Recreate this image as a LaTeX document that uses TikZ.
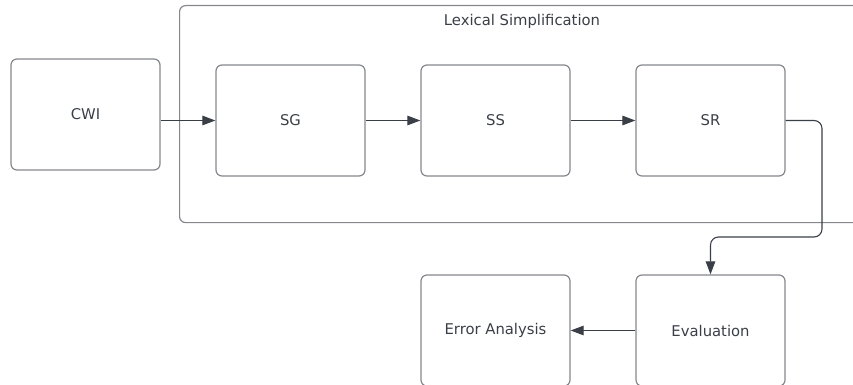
\documentclass[tikz,border=0pt]{standalone}
\usepackage{fontspec}
\setmainfont{DejaVu Sans}
\usetikzlibrary{arrows.meta}

\definecolor{boxline}{HTML}{84878C}
\definecolor{ink}{HTML}{3A3F47}

\tikzset{
    stage/.style={draw=boxline, line width=1.2pt, rounded corners=6pt,
        minimum width=149pt, minimum height=111pt, text=ink,
        font=\fontsize{14.8}{17}\selectfont},
    flow/.style={draw=ink, line width=1.1pt,
        -{Triangle[length=13pt, width=9.5pt]}},
}

\begin{document}
\begin{tikzpicture}[x=1pt, y=-1pt]
        \useasboundingbox (0,0) rectangle (853,385);
        \clip (0,0) rectangle (853,385);

        % lexical simplification group
        \node[draw=boxline, line width=1.2pt, rounded corners=6pt,
              minimum width=760pt, minimum height=217pt,
              anchor=north west] (ls) at (179,5) {};
        \node[text=ink, font=\fontsize{14.8}{17}\selectfont] (lstitle) at (522,21) {Lexical Simplification};

        % stages
        \node[stage] (cwi) at (85.5,114.5) {CWI};
        \node[stage] (sg) at (290.5,120.5) {SG};
        \node[stage] (ss) at (495.5,120.5) {SS};
        \node[stage] (sr) at (710.5,120.5) {SR};

        \node[stage] (eval) at (710.5,330.5) {Evaluation};
        \node[stage] (err) at (495.5,330.5) {Error Analysis};

        % bend point of the return line
        \coordinate (turn) at (822,237);

        % arrows
        \draw[flow] (sg.west -| cwi.east) -- (sg.west);
        \draw[flow] (sg) -- (ss);
        \draw[flow] (ss) -- (sr);
        \draw[flow, rounded corners=8pt] (sr.east) -| (turn) -| (eval.north);
        \draw[flow] (eval) -- (err);
    \end{tikzpicture}
\end{document}
